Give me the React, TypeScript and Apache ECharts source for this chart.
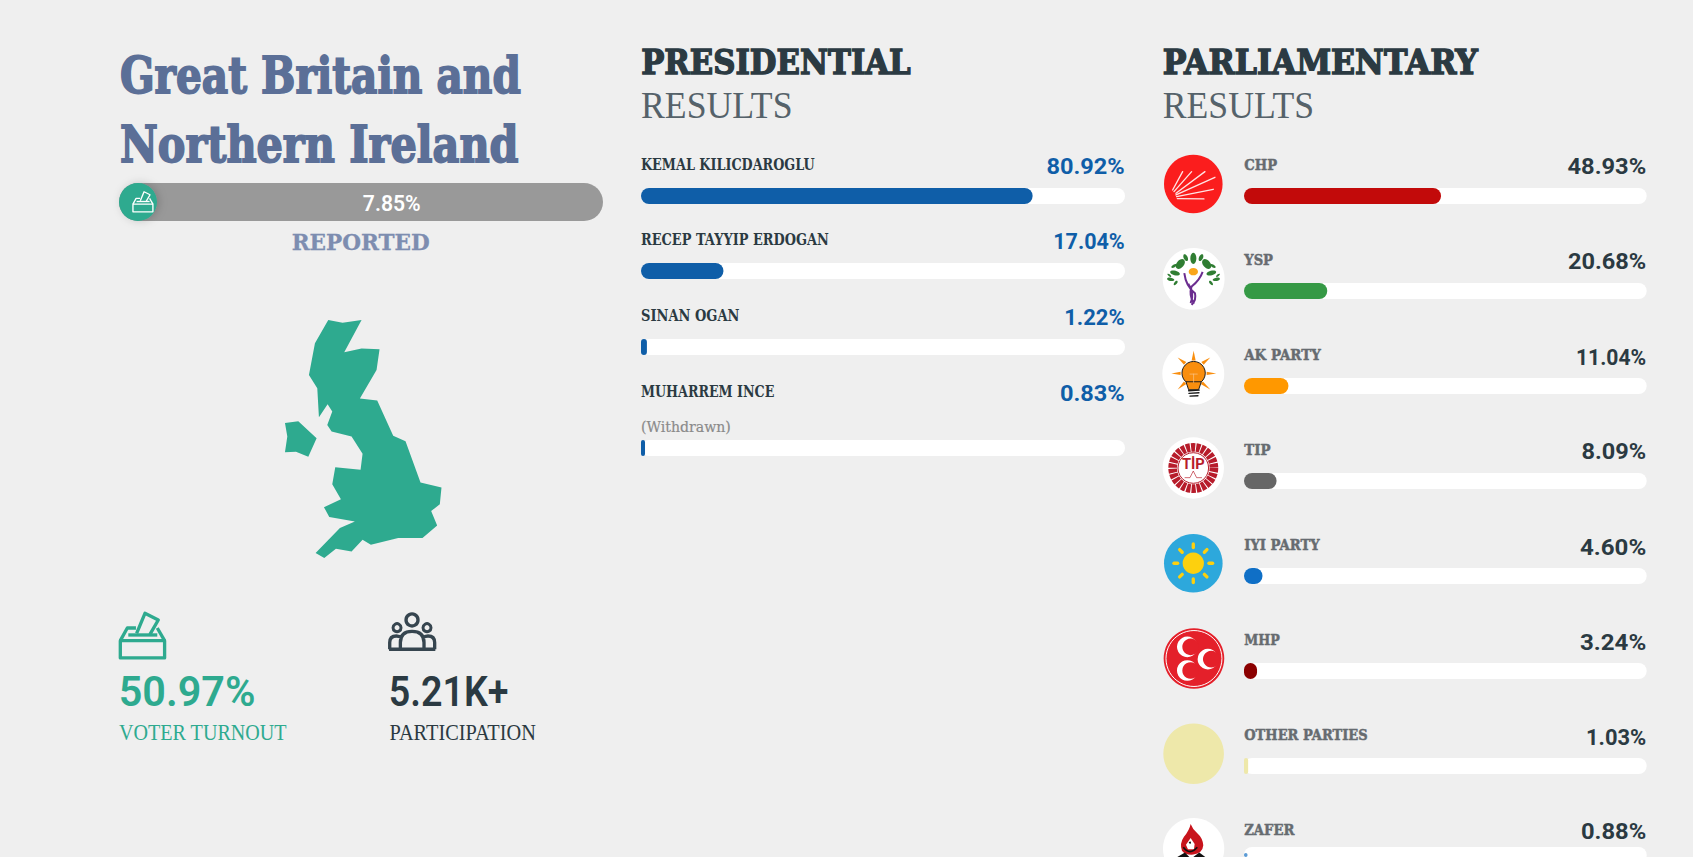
import React, { useEffect, useRef } from "react";
import * as echarts from "echarts";

// ---------- data ----------
const presidentialNames = ["KEMAL KILICDAROGLU", "RECEP TAYYIP ERDOGAN", "SINAN OGAN", "MUHARREM INCE"];
const presidentialShares = [80.92, 17.04, 1.22, 0.83];
const partyNames = ["CHP", "YSP", "AK PARTY", "TIP", "IYI PARTY", "MHP", "OTHER PARTIES", "ZAFER"];
const partyShares = [48.93, 20.68, 11.04, 8.09, 4.6, 3.24, 1.03, 0.88];
const partyColors = ["#c20a0a", "#359945", "#ff9800", "#666666", "#0f6fc6", "#8b0000", "#eee8aa", "#5b9bd5"];
const reportedShare = 7.85;
const turnoutLabel = "50.97%";
const participationLabel = "5.21K+";

// ---------- layout (pixel positions of the page blocks) ----------
const presRowTops = [188, 263, 339, 440];
const presNameRight = [815, 829, 739.5, 774.5];
const presNameBase = [170, 245, 321, 397];
const presPctLeft = [1046.5, 1053.2, 1064.2, 1060];
const presPctBase = [174, 249, 325, 401];
const partyRowTops = [188, 283, 378, 473, 568, 663, 758, 853];
const partyNameRight = [1277.3, 1273.3, 1321, 1270.7, 1320, 1280, 1368, 1294.7];
const partyNameBase = [170, 265, 360, 455, 550, 645, 740, 834.5];
const partyPctLeft = [1567.5, 1567.9, 1576, 1581.5, 1580, 1580, 1586, 1581];
const partyPctBase = [174.2, 269.5, 364.5, 459.5, 554.5, 649.5, 744.5, 839.5];

const SERIF = '"DejaVu Serif"';
const LIGHT = '"Liberation Serif"';
const SANS = "Roboto";
const DARK = "#2b3a42";
const GREEN = "#2eaa8f";
const BLUE = "#0f5ea8";
const SLATE = "#5b6f97";

echarts.graphic.registerShape(
  "people",
  echarts.graphic.extendPath(
    "M870 148 V128 Q870 108 890 108 Q900 108 905 114 M1005 148 V128 Q1005 108 985 108 Q975 108 970 114 M902 148 V128 Q902 94 937 94 Q973 94 973 128 V148 M868 148 H1007",
    {}
  )
);
echarts.graphic.registerShape(
  "yspBody",
  echarts.graphic.extendPath(
    "M103 400 Q108 440 135 460 Q140 480 125 495 M158 396 Q150 420 125 440 Q116 465 132 492 M115 432 Q135 460 122 490",
    {}
  )
);
echarts.graphic.registerShape(
  "flame",
  echarts.graphic.extendPath(
    "M92 42 Q88 62 72 80 Q58 100 66 122 Q76 136 100 134 Q128 130 130 106 Q128 84 112 70 Q98 58 92 42 Z",
    {}
  )
);

const measure = (() => {
  const ctx = document.createElement("canvas").getContext("2d");
  return (text: string, font: string) => {
    ctx!.font = font;
    return ctx!.measureText(text).width;
  };
})();

const centralRatio: Record<string, number> = { [SERIF]: 0.35, [LIGHT]: 0.3375, [SANS]: 0.34 };

function label(
  text: string,
  left: number,
  right: number,
  base: number,
  size: number,
  weight: number,
  family: string,
  fill: string,
  bold = 0
) {
  const font = `${weight} ${size}px ${family}`;
  const inner = right - left - bold;
  return {
    type: "text",
    x: left + bold / 2,
    y: base - centralRatio[family] * size,
    scaleX: inner / measure(text, font),
    silent: true,
    z: 20,
    style: {
      text,
      font,
      fill,
      textAlign: "left",
      textVerticalAlign: "middle",
      verticalAlign: "middle",
      ...(bold ? { stroke: fill, lineWidth: bold, lineJoin: "round" } : {}),
    },
  };
}

const zoomed = (x: number, y: number, children: any[], s = 1 / 3) => ({ type: "group", x, y, scaleX: s, scaleY: s, silent: true, children });
const circle = (cx: number, cy: number, r: number, style: any, z = 20) => ({ type: "circle", z, shape: { cx, cy, r }, style });
const line = (x1: number, y1: number, x2: number, y2: number, stroke: string, lineWidth: number) => ({
  type: "line",
  z: 21,
  shape: { x1, y1, x2, y2 },
  style: { stroke, lineWidth, lineCap: "round" },
});
const poly = (points: number[][], fill: string, extra: any = {}, z = 21) => ({ type: "polygon", z, shape: { points }, style: { fill, ...extra } });
const leaf = (x: number, y: number, rx: number, ry: number, deg: number, fill = "#2f7d32") => ({
  type: "ellipse",
  z: 21,
  x,
  y,
  rotation: (deg * Math.PI) / 180,
  shape: { cx: 0, cy: 0, rx, ry },
  style: { fill },
});

function ballot(x: number, y: number, s: number, color: string, w: number) {
  const st = { stroke: color, lineWidth: w, fill: "none", lineJoin: "round" };
  return zoomed(
    x,
    y,
    [
      { type: "rect", z: 21, shape: { x: 61, y: 122, width: 133, height: 52 }, style: st },
      { type: "polyline", z: 21, shape: { points: [[61, 122], [82, 84], [108, 84]] }, style: st },
      { type: "polyline", z: 21, shape: { points: [[172, 84], [194, 122]] }, style: st },
      { type: "polyline", z: 21, shape: { points: [[85, 105], [172, 105]] }, style: st },
      { type: "polyline", z: 21, shape: { points: [[110, 100], [135, 40], [175, 60], [150, 103]] }, style: st },
    ],
    s
  );
}

const ukPoints = [
  [205, 60], [248, 68], [305, 60], [253, 157], [305, 146], [359, 148], [350, 210], [300, 296], [352, 302], [400, 408],
  [437, 424], [482, 548], [545, 563], [540, 613], [514, 634], [532, 677], [488, 715], [415, 715], [333, 735], [308, 720],
  [275, 755], [228, 747], [193, 775], [167, 760], [240, 685], [285, 665], [208, 652], [192, 622], [243, 598], [217, 553],
  [226, 502], [302, 510], [308, 462], [275, 410], [215, 395], [202, 375], [217, 335], [203, 313], [177, 352], [172, 265],
  [147, 225], [165, 130],
];
const irelandPoints = [[75, 369], [115, 364], [170, 415], [145, 471], [108, 456], [75, 457], [82, 410]];

function logos() {
  const chpArrows = [
    [68, 150, 98, 95], [72, 155, 125, 95], [78, 160, 165, 95], [78, 165, 195, 112], [80, 170, 190, 148], [82, 176, 162, 177],
  ];
  const chp = zoomed(1150, 140, [
    circle(130, 132, 88, { fill: "#fb1d1d" }),
    ...chpArrows.map((a) => line(a[0], a[1], a[2], a[3], "#ffe5e5", 4)),
  ]);
  const ysp = zoomed(1150, 140, [
    circle(131, 417, 93, { fill: "#ffffff" }),
    leaf(130, 355, 9, 17, 0), leaf(107, 353, 6, 11, 25), leaf(153, 353, 6, 11, -25),
    leaf(91, 372, 11, 17, -40), leaf(170, 372, 11, 17, 40), leaf(72, 378, 4, 9, -60), leaf(189, 378, 4, 9, 60),
    leaf(75, 399, 7, 15, 75), leaf(184, 399, 7, 15, -75), leaf(62, 418, 5, 11, 80), leaf(199, 418, 5, 11, -80),
    leaf(77, 429, 4, 8, -40), leaf(183, 429, 4, 8, 40), leaf(58, 406, 3, 7, 50), leaf(204, 406, 3, 7, -50),
    leaf(130, 395, 14, 11, 0, "#f9a61a"),
    { type: "yspBody", z: 21, style: { stroke: "#6b2d8f", lineWidth: 6, fill: "none" } },
  ]);
  const or = "#f98e0e";
  const ak = zoomed(1150, 140, [
    circle(130, 702, 93, { fill: "#ffffff" }),
    poly([[131, 633], [125, 662], [137, 662]], or),
    poly([[64, 701], [92, 696], [92, 706]], or),
    poly([[199, 701], [170, 696], [170, 706]], or),
    poly([[83, 653], [102, 675], [109, 667]], or),
    poly([[181, 653], [154, 667], [161, 675]], or),
    poly([[83, 749], [109, 733], [102, 725]], or),
    poly([[181, 749], [159, 725], [152, 733]], or),
    circle(131, 700, 35, { fill: or, stroke: "#1c1c1c", lineWidth: 3 }, 21),
    poly([[108, 726], [154, 726], [146, 750], [116, 750]], or, { stroke: "#1c1c1c", lineWidth: 3 }),
    line(116, 753, 148, 751, "#1c1c1c", 4),
    line(117, 761, 147, 759, "#1c1c1c", 4),
    line(120, 769, 144, 768, "#1c1c1c", 4),
    line(120, 703, 142, 703, "#fbc892", 2),
    line(131, 703, 131, 728, "#fbc892", 2),
  ]);
  const tipRed = "#b71c2b";
  const tip = zoomed(1150, 140, [
    circle(130, 985, 92, { fill: "#ffffff" }),
    circle(130, 985, 62, { fill: "none", stroke: tipRed, lineWidth: 26, lineDash: [12, 3] }, 21),
    circle(130, 985, 46, { fill: "#ffffff", stroke: tipRed, lineWidth: 3 }, 21),
    {
      type: "text",
      z: 22,
      x: 130,
      y: 972,
      style: { text: "TİP", font: `700 44px ${SANS}`, fill: tipRed, textAlign: "center", verticalAlign: "middle" },
    },
    {
      type: "polyline",
      z: 22,
      shape: { points: [[104, 1014], [120, 1014], [130, 994], [140, 1014], [156, 1014]] },
      style: { stroke: tipRed, lineWidth: 2, fill: "none" },
    },
  ]);
  const sun = "#fdd00e";
  const rays = [0, 45, 90, 135, 180, 225, 270, 315].map((d) => {
    const a = (d * Math.PI) / 180;
    return line(130 + 47 * Math.cos(a), 190 + 47 * Math.sin(a), 130 + 58 * Math.cos(a), 190 + 58 * Math.sin(a), sun, 10);
  });
  const iyi = zoomed(1150, 500, [circle(130, 190, 88, { fill: "#2da8dc" }), circle(130, 190, 32, { fill: sun }, 21), ...rays]);
  const red = "#e4202a";
  const crescent = (x: number, y: number) => [circle(x, y, 31, { fill: "#ffffff" }, 21), circle(x + 10, y, 25, { fill: red }, 22)];
  const mhp = zoomed(1150, 500, [
    circle(132, 476, 91, { fill: red }),
    circle(132, 476, 84, { fill: "none", stroke: "#ffffff", lineWidth: 3 }, 21),
    ...crescent(112, 441),
    ...crescent(174, 478),
    ...crescent(112, 512),
  ]);
  const other = zoomed(1150, 500, [circle(131, 762, 91, { fill: "#eee8aa" })]);
  const zafer = zoomed(1160, 810, [
    circle(101, 116, 92, { fill: "#ffffff" }),
    { type: "flame", z: 21, style: { fill: "#c8141c" } },
    poly([[92, 84], [104, 102], [102, 118], [84, 118], [78, 104]], "#ffffff", {}, 22),
    circle(90, 98, 3, { fill: "#111111" }, 23),
    { type: "polyline", z: 23, shape: { points: [[70, 112], [90, 125], [112, 112]], smooth: 0.5 }, style: { stroke: "#111111", lineWidth: 5, fill: "none" } },
    poly([[52, 141], [75, 128], [88, 141]], "#111111", {}, 23),
    poly([[100, 141], [118, 128], [136, 141]], "#111111", {}, 23),
  ]);
  return [chp, ysp, ak, tip, iyi, mhp, other, zafer];
}

function buildOption() {
  const grids: any[] = [];
  const xAxes: any[] = [];
  const yAxes: any[] = [];
  const series: any[] = [];
  const addBar = (
    name: string,
    value: number,
    left: number,
    top: number,
    width: number,
    height: number,
    color: string,
    track: string,
    extra: any = {}
  ) => {
    const i = grids.length;
    grids.push({ left, top, width, height, containLabel: false });
    xAxes.push({ type: "value", gridIndex: i, min: 0, max: 100, show: false });
    yAxes.push({ type: "category", gridIndex: i, data: [name], show: false });
    series.push({
      type: "bar",
      name,
      xAxisIndex: i,
      yAxisIndex: i,
      data: [value],
      barWidth: height,
      showBackground: true,
      backgroundStyle: { color: track, borderRadius: height / 2 },
      itemStyle: { color, borderRadius: height / 2, ...extra },
      silent: true,
    });
  };

  addBar("REPORTED", reportedShare, 119, 183, 484, 38, GREEN, "#999999", {
    shadowColor: "rgba(0,0,0,0.18)",
    shadowBlur: 8,
    shadowOffsetX: 2,
  });
  presidentialNames.forEach((n, i) => addBar(n, presidentialShares[i], 641, presRowTops[i], 484, 16, BLUE, "#ffffff"));
  partyNames.forEach((n, i) => addBar(n, partyShares[i], 1244, partyRowTops[i], 402.7, 16, partyColors[i], "#ffffff"));

  const pct = (v: number) => `${v.toFixed(2)}%`;
  const graphics: any[] = [
    label("Great Britain and", 119, 522, 92.5, 50, 700, SERIF, SLATE, 1.8),
    label("Northern Ireland", 119, 519.5, 162.5, 50, 700, SERIF, SLATE, 1.8),
    label(pct(reportedShare), 362.8, 420.7, 210.5, 22.5, 600, SANS, "#ffffff"),
    label("REPORTED", 291.5, 430, 250, 23, 700, SERIF, "#7d8db0", 0.3),
    zoomed(260, 300, [poly(ukPoints, GREEN), poly(irelandPoints, GREEN)]),
    ballot(100, 600, 1 / 3, GREEN, 10),
    ballot(123.8, 185.75, 0.15, "#ffffff", 9),
    zoomed(100, 600, [
      circle(937, 60, 18, { fill: "none", stroke: "#36454f", lineWidth: 10 }),
      circle(892, 83, 12, { fill: "none", stroke: "#36454f", lineWidth: 9 }),
      circle(982, 83, 12, { fill: "none", stroke: "#36454f", lineWidth: 9 }),
      { type: "people", z: 20, style: { stroke: "#36454f", lineWidth: 10, fill: "none" } },
    ]),
    label(turnoutLabel, 118.7, 255.5, 705.5, 42, 600, SANS, GREEN),
    label("VOTER TURNOUT", 119, 287, 740, 22.5, 400, LIGHT, GREEN),
    label(participationLabel, 388.7, 508.5, 706.5, 42, 600, SANS, DARK),
    label("PARTICIPATION", 389.5, 536, 740, 22.5, 400, LIGHT, DARK),
    label("PRESIDENTIAL", 640.5, 911.5, 74, 33, 700, SERIF, DARK, 1.4),
    label("RESULTS", 641, 792.5, 118.3, 38.5, 400, LIGHT, "#55626a"),
    label("PARLIAMENTARY", 1162, 1478.8, 74, 33, 700, SERIF, DARK, 1.4),
    label("RESULTS", 1162.8, 1314, 118.3, 38.5, 400, LIGHT, "#55626a"),
    label("(Withdrawn)", 641, 731, 431.7, 15, 400, SERIF, "#8a8a8a", 0.2),
    ...logos(),
  ];
  presidentialNames.forEach((n, i) => {
    graphics.push(label(n, 641, presNameRight[i], presNameBase[i], 16, 700, SERIF, DARK));
    graphics.push(label(pct(presidentialShares[i]), presPctLeft[i], 1124.8, presPctBase[i], 22.5, 700, SANS, BLUE));
  });
  partyNames.forEach((n, i) => {
    graphics.push(label(n, 1244, partyNameRight[i], partyNameBase[i], 15.5, 700, SERIF, "#666b70", 0.5));
    graphics.push(label(pct(partyShares[i]), partyPctLeft[i], 1646.2, partyPctBase[i], 22.5, 700, SANS, DARK));
  });

  return {
    animation: false,
    backgroundColor: "#efefef",
    grid: grids,
    xAxis: xAxes,
    yAxis: yAxes,
    series,
    graphic: { elements: graphics },
  };
}

export default function App() {
  const ref = useRef<HTMLDivElement>(null);
  useEffect(() => {
    document.body.style.margin = "0";
    document.body.style.overflow = "hidden";
    document.body.style.background = "#efefef";
    const chart = echarts.init(ref.current!, undefined, { renderer: "svg" });
    chart.setOption(buildOption() as any);
    return () => chart.dispose();
  }, []);
  return <div ref={ref} style={{ width: 1693, height: 857, overflow: "hidden" }} />;
}
